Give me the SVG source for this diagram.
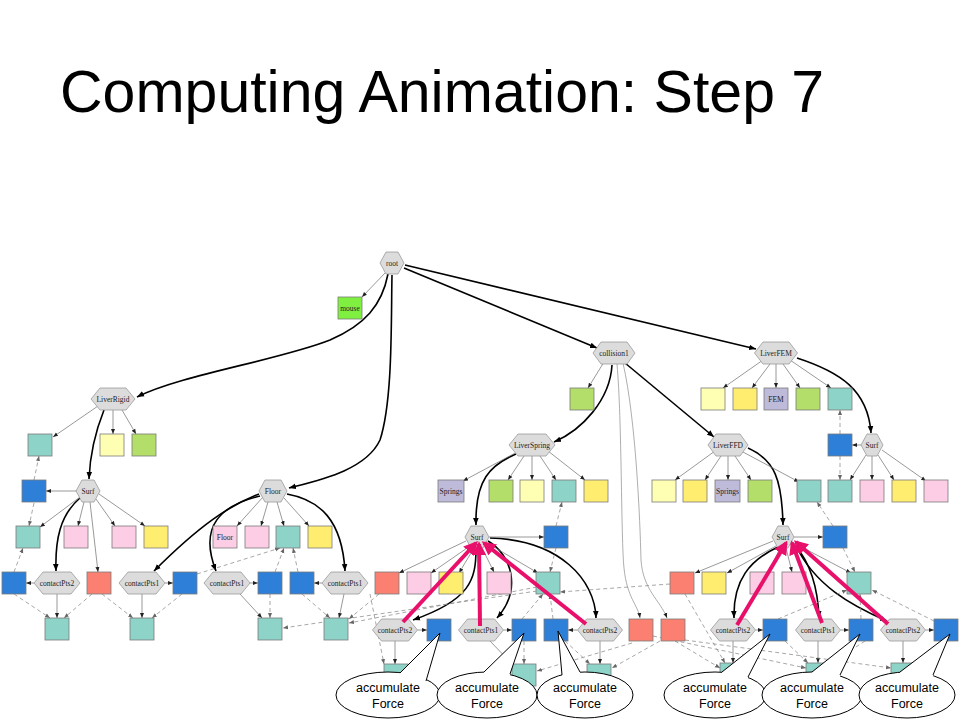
<svg xmlns="http://www.w3.org/2000/svg" width="960" height="720" viewBox="0 0 960 720">
<defs>
<style>
.hex{fill:#dcdcdc;stroke:#9a9a9a;stroke-width:0.8}
.bx{stroke:#7a7a7a;stroke-width:0.8}
.tl{fill:#8dd3c7}.ly{fill:#ffffb3}.gr{fill:#b3de69}.pk{fill:#fccde5}.ye{fill:#ffed6f}.lv{fill:#bebada}.sa{fill:#fb8072}.bl{fill:#2d7fd7}.mg{fill:#80f040}
.t{font-family:"Liberation Serif","DejaVu Serif",serif;font-size:7.5px;text-anchor:middle;fill:#222}
.e{stroke:#777;stroke-width:0.75;fill:none;marker-end:url(#a)}
.k{stroke:#000;stroke-width:1.6;fill:none;marker-end:url(#ab)}
.g{stroke:#999;stroke-width:0.8;fill:none;marker-end:url(#a)}
.d{stroke:#8a8a8a;stroke-width:0.75;stroke-dasharray:4 3;fill:none;marker-end:url(#ad)}
.p{stroke:#e8106a;stroke-width:4;fill:none;marker-end:url(#ap)}
.cl{fill:#fff;stroke:#000;stroke-width:1}
.ct{font-family:"Liberation Sans",Arial,sans-serif;font-size:12.5px;text-anchor:middle;fill:#000}
</style>
<marker id="a" viewBox="0 0 10 10" refX="10" refY="5" markerWidth="5" markerHeight="5" markerUnits="userSpaceOnUse" orient="auto"><path d="M0,1 L10,5 L0,9 z" fill="#222"/></marker>
<marker id="ab" viewBox="0 0 10 10" refX="10" refY="5" markerWidth="7" markerHeight="7" markerUnits="userSpaceOnUse" orient="auto"><path d="M0,1 L10,5 L0,9 z" fill="#000"/></marker>
<marker id="ad" viewBox="0 0 10 10" refX="10" refY="5" markerWidth="5" markerHeight="5" markerUnits="userSpaceOnUse" orient="auto"><path d="M0,1 L10,5 L0,9 z" fill="#666"/></marker>
<marker id="ap" viewBox="0 0 10 10" refX="8" refY="5" markerWidth="14" markerHeight="14" markerUnits="userSpaceOnUse" orient="auto"><path d="M0,0 L10,5 L0,10 z" fill="#e8106a"/></marker>
</defs>
<rect width="960" height="720" fill="#fff"/>
<text x="60" y="112" font-family="Liberation Sans, Arial, sans-serif" font-size="59" fill="#000">Computing Animation: Step 7</text>

<g id="connectors">
<path class="k" d="M388,274 C382,305 365,325 330,340 C280,360 180,375 137,397"/>
<path class="k" d="M392,275 C391,320 393,400 380,440 C366,470 320,480 289,488"/>
<path class="k" d="M404,268 L597,348"/>
<path class="k" d="M405,265 L756,349"/>
<path class="k" d="M104,410 C96,430 90,455 89,479"/>
<path class="k" d="M80,498 C60,515 55,540 56,571"/>
<path class="k" d="M259,494 C230,505 200,525 154,571"/>
<path class="k" d="M260,496 C222,505 198,525 216,571"/>
<path class="k" d="M287,494 C320,500 342,520 345,571"/>
<path class="k" d="M612,365 C610,400 582,430 554,442"/>
<path class="k" d="M625,363 L714,437"/>
<path class="k" d="M797,358 C840,372 868,390 871,433"/>
<path class="k" d="M516,454 C490,465 475,480 476,525"/>
<path class="k" d="M748,448 C775,460 782,480 783,525"/>
<path class="k" d="M476,549 C476,580 470,600 413,620"/>
<path class="k" d="M488,541 C512,555 522,590 497,618"/>
<path class="k" d="M490,538 C560,540 595,580 596,618"/>
<path class="k" d="M778,547 C750,560 733,580 734,618"/>
<path class="k" d="M795,545 C812,565 818,590 819,618"/>
<path class="k" d="M796,546 C815,585 850,605 887,621"/>
<path class="g" d="M617,364 C622,420 621,540 624,568 C627,598 638,605 640,618"/>
<path class="g" d="M623,363 C636,420 640,520 641,560 C643,590 660,600 667,618"/>
<path class="e" d="M386,272 L362,297"/>
<path class="e" d="M98,406 L53,437"/>
<path class="e" d="M113,410 L113,434"/>
<path class="e" d="M122,410 L136,434"/>
<path class="e" d="M77,491 L46,491"/>
<path class="e" d="M80,497 L40,527"/>
<path class="e" d="M84,502 L78,526"/>
<path class="e" d="M96,499 L115,526"/>
<path class="e" d="M99,494 L145,526"/>
<path class="e" d="M90,502 L98,572"/>
<path class="e" d="M34,583 L26,583"/>
<path class="e" d="M57,594 L57,618"/>
<path class="e" d="M165,583 L173,583"/>
<path class="e" d="M142,594 L142,618"/>
<path class="e" d="M263,497 L237,526"/>
<path class="e" d="M268,502 L261,526"/>
<path class="e" d="M277,502 L284,526"/>
<path class="e" d="M284,498 L309,526"/>
<path class="e" d="M250,583 L258,583"/>
<path class="e" d="M240,594 L262,618"/>
<path class="e" d="M322,583 L314,583"/>
<path class="e" d="M344,594 L339,618"/>
<path class="e" d="M604,362 L588,388"/>
<path class="e" d="M763,360 L723,388"/>
<path class="e" d="M770,364 L752,388"/>
<path class="e" d="M776,364 L776,388"/>
<path class="e" d="M783,364 L800,388"/>
<path class="e" d="M790,360 L831,388"/>
<path class="e" d="M519,451 L463,481"/>
<path class="e" d="M524,456 L508,480"/>
<path class="e" d="M532,456 L532,480"/>
<path class="e" d="M540,456 L556,480"/>
<path class="e" d="M548,451 L585,480"/>
<path class="e" d="M715,451 L675,480"/>
<path class="e" d="M721,456 L705,480"/>
<path class="e" d="M728,456 L728,480"/>
<path class="e" d="M735,456 L751,480"/>
<path class="e" d="M743,452 L799,482"/>
<path class="e" d="M861,445 L852,445"/>
<path class="e" d="M866,455 L850,480"/>
<path class="e" d="M872,456 L872,480"/>
<path class="e" d="M878,455 L894,480"/>
<path class="e" d="M882,450 L926,481"/>
<path class="e" d="M489,537 L544,537"/>
<path class="e" d="M466,541 L399,573"/>
<path class="e" d="M470,546 L431,573"/>
<path class="e" d="M474,548 L459,573"/>
<path class="e" d="M482,548 L494,572"/>
<path class="e" d="M487,543 L538,573"/>
<path class="e" d="M417.5,630 L427,630"/>
<path class="e" d="M395,641 L395,664"/>
<path class="e" d="M503.5,630 L512,630"/>
<path class="e" d="M490,641 L513,665"/>
<path class="e" d="M577.5,630 L568,630"/>
<path class="e" d="M600,641 L600,664"/>
<path class="e" d="M794,537 L823,537"/>
<path class="e" d="M773,541 L695,573"/>
<path class="e" d="M776,546 L727,573"/>
<path class="e" d="M780,548 L769,572"/>
<path class="e" d="M786,548 L792,572"/>
<path class="e" d="M792,542 L851,573"/>
<path class="e" d="M755.5,630 L763,630"/>
<path class="e" d="M733,641 L733,663"/>
<path class="e" d="M840.5,630 L849,630"/>
<path class="e" d="M818,641 L818,663"/>
<path class="e" d="M925.5,630 L934,630"/>
<path class="e" d="M903,641 L903,663"/>
<path class="d" d="M34,480 L39,456"/>
<path class="d" d="M34,503 L29,526"/>
<path class="d" d="M14,572 L23,548"/>
<path class="d" d="M14,594 L50,618"/>
<path class="d" d="M92,594 L64,618"/>
<path class="d" d="M102,594 L133,618"/>
<path class="d" d="M182,594 L152,618"/>
<path class="d" d="M197,574 L280,548"/>
<path class="d" d="M275,572 L284,548"/>
<path class="d" d="M298,572 L293,548"/>
<path class="d" d="M270,594 L270,618"/>
<path class="d" d="M302,594 L330,618"/>
<path class="d" d="M379,594 L349,619"/>
<path class="d" d="M537,591 L283,628"/>
<path class="d" d="M537,587 L349,623"/>
<path class="d" d="M370,594 L384,664"/>
<path class="d" d="M556,526 L562,502"/>
<path class="d" d="M556,548 L550,572"/>
<path class="d" d="M522,619 L543,594"/>
<path class="d" d="M553,619 L550,594"/>
<path class="d" d="M524,641 L524,664"/>
<path class="d" d="M565,641 L590,664"/>
<path class="d" d="M660,641 L612,668"/>
<path class="d" d="M632,643 L537,671"/>
<path class="d" d="M670,584 L560,592"/>
<path class="d" d="M840,434 L840,410"/>
<path class="d" d="M840,456 L840,480"/>
<path class="d" d="M833,526 L817,502"/>
<path class="d" d="M843,548 L855,572"/>
<path class="d" d="M778,619 L847,590"/>
<path class="d" d="M934,621 L872,590"/>
<path class="d" d="M861,619 L860,594"/>
<path class="d" d="M685,594 L725,663"/>
<path class="d" d="M675,641 L720,668"/>
<path class="d" d="M653,636 L806,668"/>
<path class="d" d="M685,640 L891,668"/>
<path class="d" d="M785,641 L808,663"/>
<path class="d" d="M865,641 L830,664"/>
<path class="d" d="M945,641 L915,664"/>
</g>

<g id="nodes">
<g id="root"><polygon class="hex" points="380,263 386,252 398,252 404,263 398,274 386,274"/><text class="t" x="392" y="265.5">root</text></g>
<g id="mouse"><rect class="bx mg" x="338" y="297" width="24" height="22"/><text class="t" x="350" y="310.5">mouse</text></g>
<g id="liverrigid"><polygon class="hex" points="91,399 100,388 126,388 135,399 126,410 100,410"/><text class="t" x="113" y="401.5">LiverRigid</text></g>
<g id="surf-l"><polygon class="hex" points="76,491 82,480 94,480 100,491 94,502 82,502"/><text class="t" x="88" y="493.5">Surf</text></g>
<g id="cp2-l"><polygon class="hex" points="34,583 43,572 71,572 80,583 71,594 43,594"/><text class="t" x="57" y="585.5">contactPts2</text></g>
<g id="cp1-l"><polygon class="hex" points="119,583 128,572 156,572 165,583 156,594 128,594"/><text class="t" x="142" y="585.5">contactPts1</text></g>
<g id="floor"><polygon class="hex" points="259,491 265,480 281,480 287,491 281,502 265,502"/><text class="t" x="273" y="493.5">Floor</text></g>
<g id="cp1-f1"><polygon class="hex" points="204,583 213,572 241,572 250,583 241,594 213,594"/><text class="t" x="227" y="585.5">contactPts1</text></g>
<g id="cp1-f2"><polygon class="hex" points="322,583 331,572 359,572 368,583 359,594 331,594"/><text class="t" x="345" y="585.5">contactPts1</text></g>
<g id="collision1"><polygon class="hex" points="593,353 601,342 627,342 635,353 627,364 601,364"/><text class="t" x="614" y="355.5">collision1</text></g>
<g id="liverfem"><polygon class="hex" points="754.5,353 763,342 789,342 797.5,353 789,364 763,364"/><text class="t" x="776" y="355.5">LiverFEM</text></g>
<g id="liverspring"><polygon class="hex" points="509,445 518,434 546,434 555,445 546,456 518,456"/><text class="t" x="532" y="447.5">LiverSpring</text></g>
<g id="liverffd"><polygon class="hex" points="708,445 716,434 740,434 748,445 740,456 716,456"/><text class="t" x="728" y="447.5">LiverFFD</text></g>
<g id="surf-r"><polygon class="hex" points="861,445 867,434 877,434 883,445 877,456 867,456"/><text class="t" x="872" y="447.5">Surf</text></g>
<g id="surf-s"><polygon class="hex" points="465,537 471,526 483,526 489,537 483,548 471,548"/><text class="t" x="477" y="539.5">Surf</text></g>
<g id="surf-f"><polygon class="hex" points="772,537 778,526 788,526 794,537 788,548 778,548"/><text class="t" x="783" y="539.5">Surf</text></g>
<g id="cp2-s"><polygon class="hex" points="372.5,630 381.5,619 408.5,619 417.5,630 408.5,641 381.5,641"/><text class="t" x="395" y="632.5">contactPts2</text></g>
<g id="cp1-s"><polygon class="hex" points="458.5,630 467.5,619 494.5,619 503.5,630 494.5,641 467.5,641"/><text class="t" x="481" y="632.5">contactPts1</text></g>
<g id="cp2-s2"><polygon class="hex" points="577.5,630 586.5,619 613.5,619 622.5,630 613.5,641 586.5,641"/><text class="t" x="600" y="632.5">contactPts2</text></g>
<g id="cp2-f"><polygon class="hex" points="710.5,630 719.5,619 746.5,619 755.5,630 746.5,641 719.5,641"/><text class="t" x="733" y="632.5">contactPts2</text></g>
<g id="cp1-f"><polygon class="hex" points="795.5,630 804.5,619 831.5,619 840.5,630 831.5,641 804.5,641"/><text class="t" x="818" y="632.5">contactPts1</text></g>
<g id="cp2-f2"><polygon class="hex" points="880.5,630 889.5,619 916.5,619 925.5,630 916.5,641 889.5,641"/><text class="t" x="903" y="632.5">contactPts2</text></g>

<g id="boxes">
<rect class="bx gr" x="570" y="388" width="24" height="22"/>
<rect class="bx ly" x="701" y="388" width="24" height="22"/>
<rect class="bx ye" x="733" y="388" width="24" height="22"/>
<rect class="bx lv" x="764" y="388" width="24" height="22"/><text class="t" x="776" y="401.5">FEM</text>
<rect class="bx gr" x="796" y="388" width="24" height="22"/>
<rect class="bx tl" x="828" y="388" width="24" height="22"/>
<rect class="bx tl" x="28" y="434" width="24" height="22"/>
<rect class="bx ly" x="100" y="434" width="24" height="22"/>
<rect class="bx gr" x="132" y="434" width="24" height="22"/>
<rect class="bx bl" x="828" y="434" width="24" height="22"/>
<rect class="bx bl" x="22" y="480" width="24" height="22"/>
<rect class="bx lv" x="438" y="480" width="26" height="22"/><text class="t" x="451" y="493.5">Springs</text>
<rect class="bx gr" x="489" y="480" width="24" height="22"/>
<rect class="bx ly" x="520" y="480" width="24" height="22"/>
<rect class="bx tl" x="552" y="480" width="24" height="22"/>
<rect class="bx ye" x="584" y="480" width="24" height="22"/>
<rect class="bx ly" x="652" y="480" width="24" height="22"/>
<rect class="bx ye" x="683" y="480" width="24" height="22"/>
<rect class="bx lv" x="715" y="480" width="25" height="22"/><text class="t" x="727.5" y="493.5">Springs</text>
<rect class="bx gr" x="748" y="480" width="24" height="22"/>
<rect class="bx tl" x="797" y="480" width="24" height="22"/>
<rect class="bx tl" x="828" y="480" width="24" height="22"/>
<rect class="bx pk" x="860" y="480" width="24" height="22"/>
<rect class="bx ye" x="892" y="480" width="24" height="22"/>
<rect class="bx pk" x="924" y="480" width="24" height="22"/>
<rect class="bx tl" x="16" y="526" width="24" height="22"/>
<rect class="bx pk" x="64" y="526" width="24" height="22"/>
<rect class="bx pk" x="112" y="526" width="24" height="22"/>
<rect class="bx ye" x="144" y="526" width="24" height="22"/>
<rect class="bx pk" x="213" y="526" width="24" height="22"/><text class="t" x="225" y="539.5">Floor</text>
<rect class="bx pk" x="245" y="526" width="24" height="22"/>
<rect class="bx tl" x="276" y="526" width="24" height="22"/>
<rect class="bx ye" x="308" y="526" width="24" height="22"/>
<rect class="bx bl" x="544" y="526" width="24" height="22"/>
<rect class="bx bl" x="823" y="526" width="24" height="22"/>
<rect class="bx bl" x="2" y="572" width="24" height="22"/>
<rect class="bx sa" x="87" y="572" width="24" height="22"/>
<rect class="bx bl" x="173" y="572" width="24" height="22"/>
<rect class="bx bl" x="258" y="572" width="24" height="22"/>
<rect class="bx bl" x="290" y="572" width="24" height="22"/>
<rect class="bx sa" x="375" y="572" width="24" height="22"/>
<rect class="bx pk" x="407" y="572" width="24" height="22"/>
<rect class="bx ye" x="439" y="572" width="24" height="22"/>
<rect class="bx pk" x="487" y="572" width="24" height="22"/>
<rect class="bx tl" x="536" y="572" width="24" height="22"/>
<rect class="bx sa" x="670" y="572" width="24" height="22"/>
<rect class="bx ye" x="702" y="572" width="24" height="22"/>
<rect class="bx pk" x="750" y="572" width="24" height="22"/>
<rect class="bx pk" x="782" y="572" width="24" height="22"/>
<rect class="bx tl" x="847" y="572" width="24" height="22"/>
<rect class="bx tl" x="45" y="618" width="24" height="22"/>
<rect class="bx tl" x="130" y="618" width="24" height="22"/>
<rect class="bx tl" x="258" y="618" width="24" height="22"/>
<rect class="bx tl" x="324" y="618" width="24" height="22"/>
<rect class="bx bl" x="427" y="619" width="24" height="22"/>
<rect class="bx bl" x="512" y="619" width="24" height="22"/>
<rect class="bx bl" x="544" y="619" width="24" height="22"/>
<rect class="bx sa" x="629" y="619" width="24" height="22"/>
<rect class="bx sa" x="661" y="619" width="24" height="22"/>
<rect class="bx bl" x="763" y="619" width="24" height="22"/>
<rect class="bx bl" x="849" y="619" width="24" height="22"/>
<rect class="bx bl" x="934" y="619" width="24" height="22"/>
<rect class="bx tl" x="384" y="664" width="24" height="22"/>
<rect class="bx tl" x="512" y="664" width="24" height="22"/>
<rect class="bx tl" x="587" y="664" width="24" height="22"/>
<rect class="bx tl" x="720" y="663" width="24" height="22"/>
<rect class="bx tl" x="806" y="663" width="24" height="22"/>
<rect class="bx tl" x="891" y="663" width="24" height="22"/>
</g>
</g>

<g id="highlight">
<path class="p" d="M403,622 L476,543"/>
<path class="p" d="M480,626 L479,544"/>
<path class="p" d="M586,624 L484,543"/>
<path class="p" d="M737,625 L786,543"/>
<path class="p" d="M822,623 L792,543"/>
<path class="p" d="M888,624 L796,542"/>
</g>

<g id="callouts">
<g id="c1"><ellipse class="cl" cx="388" cy="695" rx="52" ry="23"/><polygon points="400,676 400,673 440,633 426,681 426,685" fill="#fff"/><polyline points="400,673 440,633 426,681" fill="none" stroke="#000" stroke-width="1"/><text class="ct" x="388" y="692">accumulate</text><text class="ct" x="388" y="708">Force</text></g>
<g id="c2"><ellipse class="cl" cx="487" cy="695" rx="50" ry="23"/><polygon points="484,676 484,672 524,633 510,674 510,678" fill="#fff"/><polyline points="484,672 524,633 510,674" fill="none" stroke="#000" stroke-width="1"/><text class="ct" x="487" y="692">accumulate</text><text class="ct" x="487" y="708">Force</text></g>
<g id="c3"><ellipse class="cl" cx="585" cy="695" rx="48" ry="23"/><polygon points="562,678 562,675 558,631 580,672 580,676" fill="#fff"/><polyline points="562,675 558,631 580,672" fill="none" stroke="#000" stroke-width="1"/><text class="ct" x="585" y="692">accumulate</text><text class="ct" x="585" y="708">Force</text></g>
<g id="c4"><ellipse class="cl" cx="715" cy="695" rx="51" ry="23"/><polygon points="722,676 722,672 770,634 748,677 748,681" fill="#fff"/><polyline points="722,672 770,634 748,677" fill="none" stroke="#000" stroke-width="1"/><text class="ct" x="715" y="692">accumulate</text><text class="ct" x="715" y="708">Force</text></g>
<g id="c5"><ellipse class="cl" cx="812" cy="695" rx="50" ry="23"/><polygon points="812,676 812,672 860,634 840,675 840,679" fill="#fff"/><polyline points="812,672 860,634 840,675" fill="none" stroke="#000" stroke-width="1"/><text class="ct" x="812" y="692">accumulate</text><text class="ct" x="812" y="708">Force</text></g>
<g id="c6"><ellipse class="cl" cx="907" cy="695" rx="48" ry="23"/><polygon points="900,676 900,672 950,634 933,675 933,679" fill="#fff"/><polyline points="900,672 950,634 933,675" fill="none" stroke="#000" stroke-width="1"/><text class="ct" x="907" y="692">accumulate</text><text class="ct" x="907" y="708">Force</text></g>
</g>
</svg>
